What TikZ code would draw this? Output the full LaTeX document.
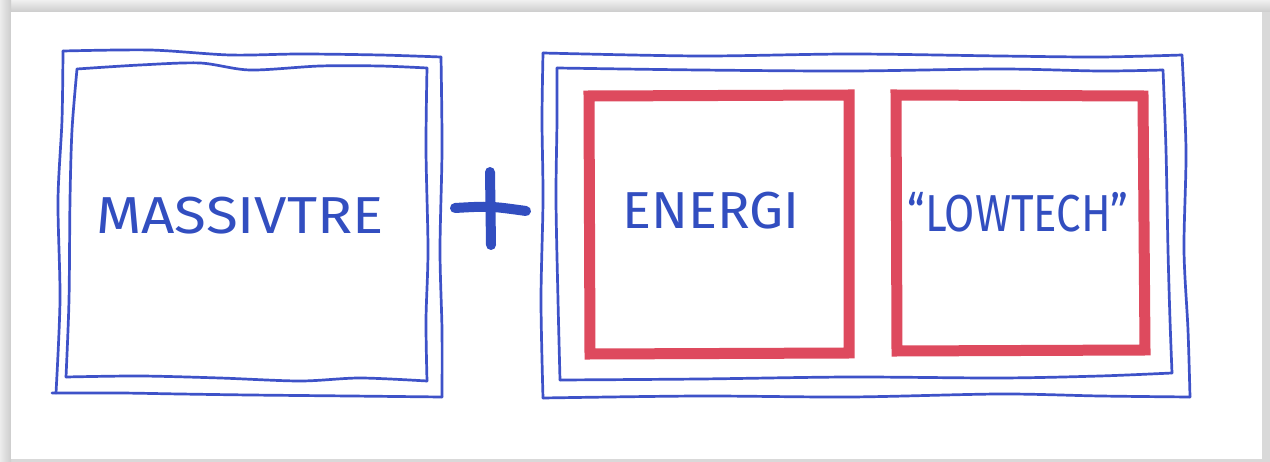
\documentclass[tikz,border=0pt]{standalone}
\usepackage{fontspec}
\setmainfont{Fira Sans}
\definecolor{pen}{RGB}{62,82,200}
\definecolor{ink}{RGB}{50,78,192}
\definecolor{marker}{RGB}{222,74,94}
\tikzset{
  penline/.style={draw=pen,line width=2.7pt,line cap=round,line join=round},
  markline/.style={draw=marker,line width=11pt,line join=miter},
  lettering/.style={text=ink,font=\fontsize{52}{52}\selectfont,inner sep=0pt},
  plusbar/.style={draw=ink,line width=10pt,line cap=round}
}
\begin{document}
\begin{tikzpicture}[x=1pt,y=-1pt]
\useasboundingbox (0,0) rectangle (1270,462);
% photo frame
\fill[gray!30] (0,0) rectangle (1270,462);
\shade[top color=gray!12,bottom color=gray!40] (0,0) rectangle (1270,12);
\shade[left color=gray!15,right color=gray!40] (0,0) rectangle (11,462);
\fill[white] (11,12) rectangle (1262,459);

% left box, outer
\draw[penline] plot[smooth] coordinates {(63,51) (150,50) (230,55) (300,54) (380,55) (441,57)};
\draw[penline] plot[smooth] coordinates {(441,57) (442,150) (440,250) (442,330) (442,397)};
\draw[penline] plot[smooth] coordinates {(442,397) (350,396) (250,395) (180,394) (120,393) (52,393)};
\draw[penline] plot[smooth] coordinates {(56,393) (60,300) (58,200) (62,120) (63,51)};
% left box, inner
\draw[penline] plot[smooth] coordinates {(77,69) (140,65) (200,63) (250,70) (320,66) (380,66) (427,68)};
\draw[penline] plot[smooth] coordinates {(427,68) (426,150) (428,250) (426,320) (427,381)};
\draw[penline] plot[smooth] coordinates {(427,381) (360,378) (300,381) (220,378) (140,376) (66,377)};
\draw[penline] plot[smooth] coordinates {(66,377) (69,300) (70,200) (72,130) (77,69)};

% right box, outer
\draw[penline] plot[smooth] coordinates {(543,53) (700,56) (850,54) (1000,56) (1100,57) (1182,55)};
\draw[penline] plot[smooth] coordinates {(1182,55) (1186,150) (1184,250) (1188,330) (1190,397)};
\draw[penline] plot[smooth] coordinates {(1190,397) (1100,396) (1000,394) (850,397) (700,396) (543,398)};
\draw[penline] plot[smooth] coordinates {(543,398) (541,300) (543,200) (542,120) (543,53)};
% right box, inner
\draw[penline] plot[smooth] coordinates {(557,68) (700,70) (850,71) (1000,69) (1100,71) (1163,70)};
\draw[penline] plot[smooth] coordinates {(1163,70) (1166,150) (1168,250) (1170,320) (1172,373)};
\draw[penline] plot[smooth] coordinates {(1172,373) (1100,376) (1000,378) (850,377) (700,379) (560,380)};
\draw[penline] plot[smooth] coordinates {(560,380) (558,300) (556,200) (557,120) (557,68)};

% red boxes
\draw[markline] (589,96) -- (849,95) -- (849,353) -- (590,354) -- cycle;
\draw[markline] (896,95) -- (1143,96) -- (1145,350) -- (897,351) -- cycle;

% plus
\draw[plusbar] (455,208) .. controls (490,206) .. (526,211);
\draw[plusbar] (490,172) -- (491,245);

% labels
\node[lettering] (massiv) at (240,216) {\scalebox{1.12}[1]{MASSIVTRE}};
\node[lettering] (energi) at (711,211) {\scalebox{1.04}[1]{ENERGI}};
\node[lettering] (lowtech) at (1018,212) {\scalebox{0.84}[1]{``LOWTECH''}};
\end{tikzpicture}
\end{document}
